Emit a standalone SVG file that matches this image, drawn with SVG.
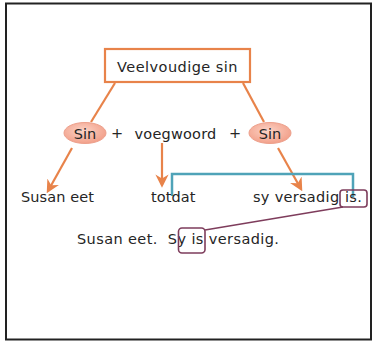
<svg xmlns="http://www.w3.org/2000/svg" width="376" height="342" viewBox="0 0 376 342">
<style>
text{font-family:"DejaVu Sans","Liberation Sans",sans-serif;fill:#252525;font-size:14.5px}
.or{stroke:#E8834A;stroke-width:2.2;fill:none}
.tl{stroke:#4FA3B8;stroke-width:2.5;fill:none}
.pu{stroke:#7E3D5C;stroke-width:1.6;fill:none}
</style>
<defs>
<marker id="ah" viewBox="0 0 10 10" refX="8" refY="5" markerWidth="6" markerHeight="6" orient="auto" markerUnits="strokeWidth">
<path d="M0,0 L10,5 L0,10 L3,5 Z" fill="#E8834A"/>
</marker>
<radialGradient id="sg" cx="0.45" cy="0.4" r="0.6">
<stop offset="0" stop-color="#FCD3C6"/>
<stop offset="1" stop-color="#F2A08A"/>
</radialGradient>
</defs>
<rect x="0" y="0" width="376" height="342" fill="#fff"/>
<rect x="6" y="3.5" width="365" height="336" fill="#fff" stroke="#222" stroke-width="2"/>
<g id="connectors">
<line class="or" x1="115" y1="83" x2="91" y2="122"/>
<line class="or" x1="243" y1="83" x2="264" y2="122"/>
<line class="or" x1="72" y1="148" x2="48" y2="191" marker-end="url(#ah)"/>
<line class="or" x1="162" y1="143" x2="162" y2="185" marker-end="url(#ah)"/>
<line class="or" x1="278" y1="148" x2="301" y2="189" marker-end="url(#ah)"/>
<path class="tl" d="M172,196 V174 H353 V197"/>
<line class="pu" x1="343" y1="207" x2="205" y2="230"/>
</g>
<g id="root">
<rect x="105" y="49" width="145" height="33" fill="#fff" stroke="#E8834A" stroke-width="2.2"/>
<text x="177.5" y="72" text-anchor="middle" letter-spacing="0.45">Veelvoudige sin</text>
</g>
<g id="sin1">
<ellipse cx="85" cy="133" rx="21" ry="10.5" fill="url(#sg)" stroke="#EDA08C" stroke-width="1"/>
<text x="85" y="138.5" text-anchor="middle">Sin</text>
</g>
<g id="plus1"><text x="117" y="138" text-anchor="middle">+</text></g>
<g id="voegwoord"><text x="175.5" y="138.5" text-anchor="middle" letter-spacing="0.2">voegwoord</text></g>
<g id="plus2"><text x="235" y="138" text-anchor="middle">+</text></g>
<g id="sin2">
<ellipse cx="270" cy="133" rx="21" ry="10.5" fill="url(#sg)" stroke="#EDA08C" stroke-width="1"/>
<text x="270" y="138.5" text-anchor="middle">Sin</text>
</g>
<g id="susan"><text x="21" y="202" letter-spacing="0.1">Susan eet</text></g>
<g id="totdat"><text x="151" y="202" letter-spacing="0.1">totdat</text></g>
<g id="sy"><text x="253" y="202" letter-spacing="0.3">sy versadig</text></g>
<g id="is1">
<text x="345" y="202" letter-spacing="0.3">is.</text>
<rect class="pu" x="340" y="190" width="27" height="17" rx="3"/>
</g>
<g id="sentence">
<text x="77" y="244" letter-spacing="0.4" xml:space="preserve">Susan eet.  Sy is versadig.</text>
<rect class="pu" x="178.5" y="228" width="26.5" height="25" rx="3.5"/>
</g>
</svg>
